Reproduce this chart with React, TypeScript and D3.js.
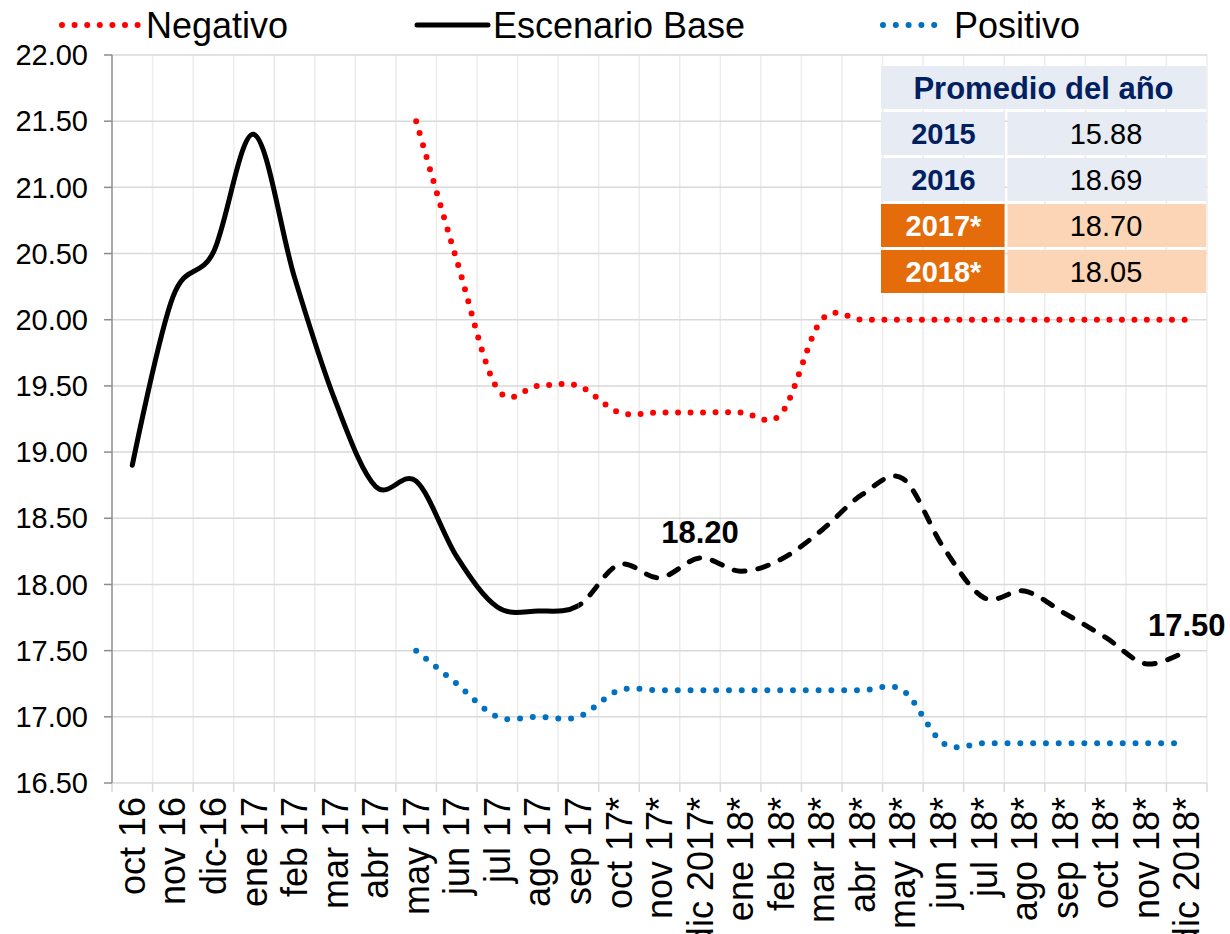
import { useEffect } from "react";
import * as d3 from "d3";

// categories (x axis)
const categories = [
  "oct 16", "nov 16", "dic-16", "ene 17", "feb 17", "mar 17", "abr 17", "may 17",
  "jun 17", "jul 17", "ago 17", "sep 17", "oct 17*", "nov 17*", "dic 2017*", "ene 18*",
  "feb 18*", "mar 18*", "abr 18*", "may 18*", "jun 18*", "jul 18*", "ago 18*", "sep 18*",
  "oct 18*", "nov 18*", "dic 2018*",
];

const baseValues = [
  18.90, 20.17, 20.51, 21.40, 20.32, 19.39, 18.74, 18.78, 18.21, 17.83, 17.80, 17.84,
  18.15, 18.05, 18.20, 18.10, 18.19, 18.41, 18.68, 18.80, 18.28, 17.90, 17.95, 17.78,
  17.60, 17.40, 17.50,
];

const negativoValues: (number | null)[] = [
  null, null, null, null, null, null, null, 21.50, 20.45, 19.48, 19.50, 19.50,
  19.30, 19.30, 19.30, 19.30, 19.29, 20.00, 20.00, 20.00, 20.00, 20.00, 20.00, 20.00,
  20.00, 20.00, 20.00,
];

const positivoValues: (number | null)[] = [
  null, null, null, null, null, null, null, 17.50, 17.25, 17.00, 17.00, 17.00,
  17.20, 17.20, 17.20, 17.20, 17.20, 17.20, 17.20, 17.20, 16.80, 16.80, 16.80, 16.80,
  16.80, 16.80, 16.80,
];

// first category drawn dashed (forecast)
const forecastStart = "sep 17";

const labelCategories = ["dic 2017*", "dic 2018*"];

const yTicks = [16.5, 17, 17.5, 18, 18.5, 19, 19.5, 20, 20.5, 21, 21.5, 22];

// table "Promedio del año"
const tableYears = ["2015", "2016", "2017*", "2018*"];
const tableValues = ["15.88", "18.69", "18.70", "18.05"];
const tableProjected = [false, false, true, true];

const FONT = "'Liberation Sans', Arial, sans-serif";
const W = 1230;
const H = 934;
const margin = { top: 55, right: 23, bottom: 151, left: 112 };

export default function App() {
  useEffect(() => {
    document.body.style.margin = "0";
  }, []);

  const x = d3.scaleBand<string>()
    .domain(categories)
    .range([margin.left, W - margin.right]);
  const cx = (c: string) => (x(c) ?? 0) + x.bandwidth() / 2;

  const y = d3.scaleLinear()
    .domain([16.5, 22])
    .range([H - margin.bottom, margin.top]);

  const line = d3.line<number | null>()
    .defined(d => d !== null)
    .x((_, i) => cx(categories[i]))
    .y(d => y(d as number))
    .curve(d3.curveCatmullRom.alpha(0));

  const basePath = line(baseValues) ?? "";
  const splitX = cx(forecastStart);
  const plotTop = y(22);
  const plotBottom = y(16.5);
  const plotLeft = margin.left;
  const plotRight = W - margin.right;

  // table geometry
  const tX = 881, tRight = 1206, tSplit = 1006, tTop = 66, rowH = 46, gap = 3;

  return (
    <svg width={W} height={H} style={{ position: "absolute", left: 0, top: 0, background: "#fff" }}
      fontFamily={FONT}>
      <defs>
        <clipPath id="solidClip">
          <rect x={0} y={0} width={splitX} height={H} />
        </clipPath>
        <clipPath id="dashClip">
          <rect x={splitX} y={0} width={W - splitX} height={H} />
        </clipPath>
      </defs>

      {/* vertical gridlines at category boundaries */}
      {categories.map((c, i) => {
        const gx = (x(c) ?? 0) + x.bandwidth();
        return (
          <g key={"vg" + i}>
            <line x1={gx} x2={gx} y1={plotTop} y2={plotBottom} stroke="#ececec" strokeWidth={1.5} />
            <line x1={gx} x2={gx} y1={plotBottom} y2={plotBottom + 9} stroke="#d9d9d9" strokeWidth={1.5} />
          </g>
        );
      })}
      <line x1={plotLeft} x2={plotLeft} y1={plotBottom} y2={plotBottom + 9} stroke="#d9d9d9" strokeWidth={1.5} />

      {/* horizontal gridlines + y ticks */}
      {yTicks.map(t => (
        <g key={"yt" + t}>
          <line x1={plotLeft} x2={plotRight} y1={y(t)} y2={y(t)} stroke="#d9d9d9" strokeWidth={1.5} />
          <line x1={plotLeft - 8} x2={plotLeft} y1={y(t)} y2={y(t)} stroke="#8c8c8c" strokeWidth={1.5} />
          <text x={plotLeft - 24} y={y(t)} dy="0.35em" textAnchor="end" fontSize={29} fill="#000">
            {t.toFixed(2)}
          </text>
        </g>
      ))}
      <line x1={plotLeft} x2={plotLeft} y1={plotTop} y2={plotBottom} stroke="#8c8c8c" strokeWidth={1.5} />

      {/* x labels */}
      {categories.map(c => (
        <text key={"xl" + c} transform={`translate(${cx(c)},${plotBottom + 14}) rotate(-90)`}
          dy="0.35em" textAnchor="end" fontSize={36} fill="#000">
          {c}
        </text>
      ))}

      {/* table */}
      <rect x={tX} y={tTop} width={tRight - tX} height={rowH - gap} fill="#e7ecf4" />
      <text x={(tX + tRight) / 2} y={tTop + (rowH - gap) / 2} dy="0.36em" textAnchor="middle"
        fontSize={31} fontWeight="bold" fill="#002060">Promedio del año</text>
      {tableYears.map((yr, i) => {
        const ry = tTop + rowH * (i + 1);
        const proj = tableProjected[i];
        return (
          <g key={"row" + yr}>
            <rect x={tX} y={ry} width={tSplit - tX - 1.5} height={rowH - gap} fill={proj ? "#e46c0a" : "#e7ecf4"} />
            <rect x={tSplit + 1.5} y={ry} width={tRight - tSplit - 1.5} height={rowH - gap} fill={proj ? "#fbd5b5" : "#e7ecf4"} />
            <text x={(tX + tSplit) / 2} y={ry + (rowH - gap) / 2} dy="0.36em" textAnchor="middle"
              fontSize={29} fontWeight="bold" fill={proj ? "#fff" : "#002060"}>{yr}</text>
            <text x={(tSplit + tRight) / 2} y={ry + (rowH - gap) / 2} dy="0.36em" textAnchor="middle"
              fontSize={29} fill="#000">{tableValues[i]}</text>
          </g>
        );
      })}

      {/* series */}
      <path d={line(negativoValues) ?? ""} fill="none" stroke="#ff0000" strokeWidth={6}
        strokeLinecap="round" strokeDasharray="0 12.5" />
      <path d={line(positivoValues) ?? ""} fill="none" stroke="#0070c0" strokeWidth={6}
        strokeLinecap="round" strokeDasharray="0 12.8" />
      <path d={basePath} fill="none" stroke="#000" strokeWidth={5} strokeLinejoin="round"
        strokeLinecap="round" clipPath="url(#solidClip)" />
      <path d={basePath} fill="none" stroke="#000" strokeWidth={5}
        strokeLinecap="round" strokeDasharray="11 13" clipPath="url(#dashClip)" />

      {/* data labels */}
      {labelCategories.map(c => (
        <text key={"dl" + c} x={cx(c)} y={y(baseValues[categories.indexOf(c)]) - 15}
          textAnchor="middle" fontSize={31} fontWeight="bold" fill="#000">
          {baseValues[categories.indexOf(c)].toFixed(2)}
        </text>
      ))}

      {/* legend */}
      <g>
        <line x1={62} x2={138} y1={25} y2={25} stroke="#ff0000" strokeWidth={6}
          strokeLinecap="round" strokeDasharray="0 12.6" />
        <text x={146} y={25} dy="0.35em" fontSize={36} fill="#000">Negativo</text>
        <line x1={417} x2={488} y1={25} y2={25} stroke="#000" strokeWidth={5} strokeLinecap="round" />
        <text x={493} y={25} dy="0.35em" fontSize={36} fill="#000">Escenario Base</text>
        <line x1={883} x2={947} y1={25} y2={25} stroke="#0070c0" strokeWidth={6}
          strokeLinecap="round" strokeDasharray="0 12.8" />
        <text x={954} y={25} dy="0.35em" fontSize={36} fill="#000">Positivo</text>
      </g>
    </svg>
  );
}
